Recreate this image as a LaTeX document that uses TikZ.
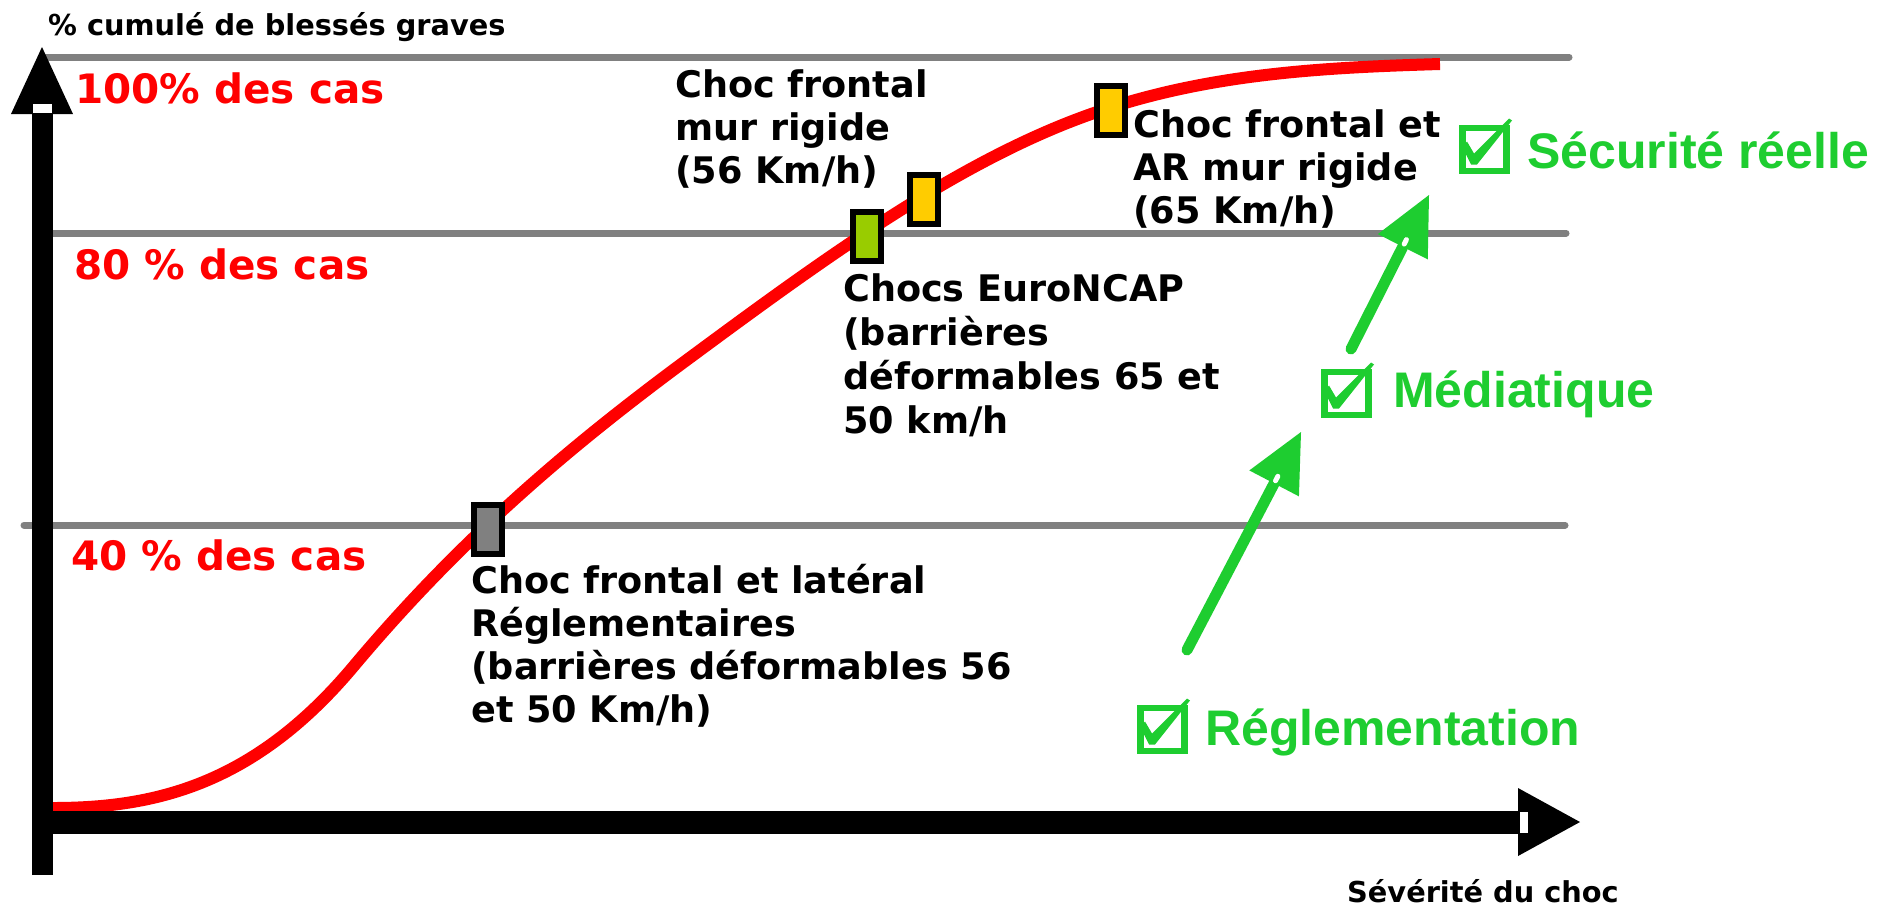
\documentclass[tikz,border=0pt]{standalone}
\usepackage{fontspec}
\setmainfont{DejaVu Sans}
\newfontfamily\arialfont{Liberation Sans}
\usetikzlibrary{calc}
\definecolor{linegray}{HTML}{808080}
\definecolor{ncapgreen}{HTML}{99CC00}
\definecolor{markorange}{HTML}{FFCC00}
\definecolor{okgreen}{RGB}{30,205,48}
\definecolor{curvered}{HTML}{FF0000}
\begin{document}
\begin{tikzpicture}[x=1pt,y=-1pt,
  gridline/.style={draw=linegray, line width=7pt, line cap=round},
  pct/.style={anchor=base west, inner sep=0pt, text=curvered, font=\fontsize{40.5}{48}\selectfont\bfseries},
  lbl/.style={anchor=base west, inner sep=0pt, align=left, font=\fontsize{36.6}{43}\selectfont\bfseries},
  lblwide/.style={anchor=base west, inner sep=0pt, align=left, font=\fontsize{36.6}{44}\selectfont\bfseries},
  axlbl/.style={anchor=base west, inner sep=0pt, font=\fontsize{28.8}{34}\selectfont\bfseries},
  goal/.style={anchor=base west, inner sep=0pt, text=okgreen, font=\arialfont\fontsize{50}{60}\selectfont\bfseries},
  marker/.style={draw=black, line width=6pt, inner sep=0pt, minimum width=28pt, minimum height=49pt},
  cbox/.style={draw=okgreen, line width=6.5pt, inner sep=0pt, minimum width=44pt, minimum height=43pt},
  tick/.pic={\fill[okgreen] (6,25) -- (11,20) -- (18,32) -- (53,-3) -- (56,-1) -- (21,43) -- (15,43) -- cycle;},
  goalarrow/.style={okgreen, line width=11pt, line cap=round},
]
\useasboundingbox (0,0) rectangle (1879,906);
\fill[white] (0,0) rectangle (1879,906);

% horizontal reference lines
\draw[gridline] (44,57) -- (1569,57);
\draw[gridline] (38,233) -- (1566,233);
\draw[gridline] (24,525) -- (1565,525);

% percentage labels
\node[pct] (p100) at (75,103) {100\% des cas};
\node[pct] (p80) at (74,279) {80 \% des cas};
\node[pct] (p40) at (71,570) {40 \% des cas};

% red curve
\draw[curvered, line width=12pt]
  (53,808) .. controls (153,808) and (253,786) .. (353,667)
  .. controls (462,537) and (571,446) .. (680,365)
  .. controls (818,263) and (956,161) .. (1094,113)
  .. controls (1209,73) and (1325,67.5) .. (1440,64);

% axes
\coordinate (yfoot) at (42.5,875);
\coordinate (ybase) at (42.5,114);
\draw[line width=21pt] (yfoot) -- (ybase);
\fill (11,114) -- (42,47) -- (73,114) -- cycle;
\fill[white] (33,104) rectangle (52,113);
\coordinate (xstart) at (42.5,822);
\coordinate (xbase) at (1518,822);
\draw[line width=23pt] (xstart) -- (xbase);
\fill (1518,788) -- (1580,822) -- (1518,856) -- cycle;
\fill[white] (1520,812) rectangle (1528,833);

\node[axlbl] (ytitle) at (48,35) {\% cumulé de blessés graves};
\node[axlbl] (xtitle) at (1347,902) {Sévérité du choc};

% markers
\node[marker, fill=linegray] (mreg) at (488,529.5) {};
\node[marker, fill=ncapgreen] (mncap) at (867,236.5) {};
\node[marker, fill=markorange] (mmur) at (924,199.5) {};
\node[marker, fill=markorange] (mar) at (1111,110.5) {};

% marker labels (anchored at the baseline of their last line)
\node[lbl] (lreg) at (471,722) {Choc frontal et latéral\\Réglementaires\\(barrières déformables 56\\et 50 Km/h)};
\node[lbl] (lmur) at (675,183) {Choc frontal\\mur rigide\\(56 Km/h)};
\node[lblwide] (lncap) at (843,433) {Chocs EuroNCAP\\(barrières\\déformables 65 et\\50 km/h};
\node[lbl] (lar) at (1133,223) {Choc frontal et\\AR mur rigide\\(65 Km/h)};

% goals with check boxes
\node[cbox] (cbsec) at (1484.5,149.5) {};
\node[cbox] (cbmed) at (1346.5,393.5) {};
\node[cbox] (cbreg) at (1162.5,729.5) {};
\pic at ($(cbsec.north west)+(-3.25,-3.25)$) {tick};
\pic at ($(cbmed.north west)+(-3.25,-3.25)$) {tick};
\pic at ($(cbreg.north west)+(-3.25,-3.25)$) {tick};
\node[goal] (tsec) at (1527,168) {Sécurité réelle};
\node[goal] (tmed) at (1393,407) {Médiatique};
\node[goal] (treg) at (1205,745) {Réglementation};

% green arrows
\coordinate (aTail) at (1187,650);
\coordinate (aTip) at (1301,432);
\coordinate (aBase) at ($(aTip)!58pt!(aTail)$);
\draw[goalarrow] (aTail) -- (aBase);
\fill[okgreen] (aTip) -- ($(aBase)!28pt!90:(aTip)$) -- ($(aBase)!28pt!-90:(aTip)$) -- cycle;
\draw[white, line width=5pt, line cap=round] ($(aBase)!3pt!(aTip)$) -- ($(aBase)!8pt!(aTip)$);

\coordinate (bTail) at (1351,349);
\coordinate (bTip) at (1429,195);
\coordinate (bBase) at ($(bTip)!58pt!(bTail)$);
\draw[goalarrow] (bTail) -- (bBase);
\fill[okgreen] (bTip) -- ($(bBase)!28pt!90:(bTip)$) -- ($(bBase)!28pt!-90:(bTip)$) -- cycle;
\draw[white, line width=5pt, line cap=round] ($(bBase)!3pt!(bTip)$) -- ($(bBase)!8pt!(bTip)$);
\end{tikzpicture}
\end{document}
